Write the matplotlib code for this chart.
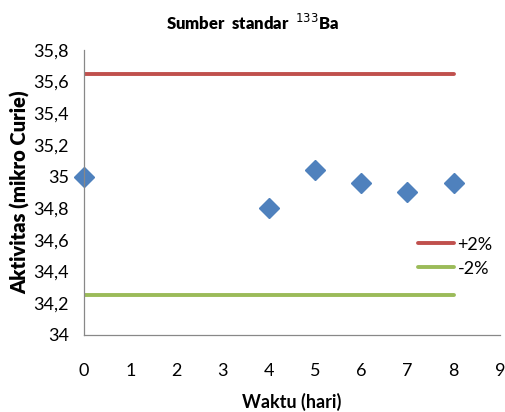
import matplotlib.pyplot as plt
from matplotlib.ticker import FuncFormatter

# data
hari = [0, 4, 5, 6, 7, 8]
aktivitas = [35.0, 34.8, 35.04, 34.96, 34.9, 34.96]
batas_x = [0, 8]
batas_atas = [35.65, 35.65]
batas_bawah = [34.25, 34.25]

plt.rcParams['font.family'] = ['Lato', 'DejaVu Sans']

fig = plt.figure(figsize=(5.06, 4.12), dpi=100)
ax = fig.add_axes([0.166, 0.187, 0.822, 0.692])

ax.plot(batas_x, batas_atas, color='#C0504D', lw=2.8, solid_capstyle='round', label='+2%')
ax.plot(batas_x, batas_bawah, color='#9BBB59', lw=2.8, solid_capstyle='round', label='-2%')
ax.plot(hari, aktivitas, 'D', color='#4F81BD', markersize=10, linestyle='none', clip_on=False)

ax.set_xlim(0, 9)
ax.set_ylim(34, 35.8)
ax.set_xticks(range(0, 10))
ax.set_yticks([34 + 0.2 * i for i in range(10)])
ax.yaxis.set_major_formatter(FuncFormatter(lambda v, p: ('%g' % round(v, 1)).replace('.', ',')))
ax.tick_params(length=0, labelsize=13, pad=11)
ax.tick_params(axis='x', pad=20)

for s in ['top', 'right']:
    ax.spines[s].set_visible(False)
for s in ['left', 'bottom']:
    ax.spines[s].set_color('#888888')
    ax.spines[s].set_linewidth(0.9)

ax.set_xlabel('Waktu (hari)', fontsize=13, fontweight='bold', labelpad=10)
ax.set_ylabel('Aktivitas (mikro Curie)', fontsize=14.5, fontweight='heavy', labelpad=2)
fig.text(0.5, 0.945, r'Sumber  standar  $^{133}$Ba', ha='center', va='center',
         fontsize=12, fontweight='heavy')

leg = ax.legend(loc='upper left', bbox_to_anchor=(0.785, 0.37), frameon=False,
                fontsize=13, handlelength=2.0, handletextpad=0.2, labelspacing=0.45,
                borderaxespad=0)

fig.savefig('out.png', dpi=100)
